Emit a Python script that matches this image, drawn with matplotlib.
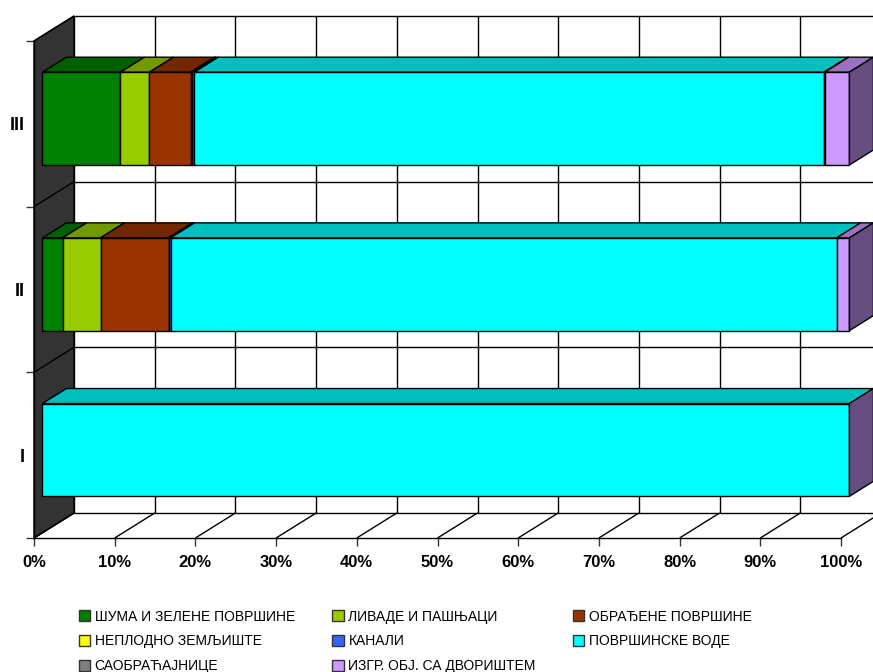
import matplotlib
matplotlib.use("Agg")
import matplotlib.pyplot as plt
from matplotlib.patches import Patch
import numpy as np

plt.rcParams['font.family'] = ['Liberation Sans', 'DejaVu Sans']

# Share of each land use per zone, percent
categories = ["I", "II", "III"]
series_names = ["ШУМА И ЗЕЛЕНЕ ПОВРШИНЕ", "ЛИВАДЕ И ПАШЊАЦИ", "ОБРАЂЕНЕ ПОВРШИНЕ",
                "НЕПЛОДНО ЗЕМЉИШТЕ", "КАНАЛИ", "ПОВРШИНСКЕ ВОДЕ",
                "САОБРАЋАЈНИЦЕ", "ИЗГР. ОБЈ. СА ДВОРИШТЕМ"]
series_colors = ["#008000", "#99CC00", "#993300", "#FFFF00",
                 "#3366FF", "#00FFFF", "#808080", "#CC99FF"]
forest = [0, 2.5, 9.67]
meadow = [0, 4.7, 3.6]
farmland = [0, 8.43, 5.1]
barren = [0, 0.0, 0.15]
canals = [0, 0.25, 0.3]
water = [100, 82.55, 78.05]
roads = [0, 0.0, 0.08]
built = [0, 1.57, 3.05]
series_values = [forest, meadow, farmland, barren, canals, water, roads, built]
x_ticks = [0, 10, 20, 30, 40, 50, 60, 70, 80, 90, 100]

# oblique depth of the 3D box, in data units
DEPTH_X = 4.96
DEPTH_Y = 0.151
BAR_FRONT = 0.21
BAR_BACK = 0.81
BAR_HEIGHT = 0.56
LW = 1.0


def shade(color, factor):
    rgb = np.array(matplotlib.colors.to_rgb(color)) * factor
    return tuple(rgb)


def project(x, y, d):
    return x + d * DEPTH_X, y + d * DEPTH_Y


def face(ax, corners, color, zorder):
    pts = [project(*c) for c in corners]
    ax.fill([p[0] for p in pts], [p[1] for p in pts], facecolor=color,
            edgecolor="black", linewidth=LW, zorder=zorder, clip_on=False)


def line(ax, a, b, color="black", zorder=2):
    pa, pb = project(*a), project(*b)
    ax.plot([pa[0], pb[0]], [pa[1], pb[1]], color=color, linewidth=LW,
            zorder=zorder, clip_on=False, solid_capstyle="butt")


fig = plt.figure(figsize=(8.73, 6.72), dpi=100)
ax = fig.add_axes([34 / 873, 134 / 672, 807 / 873, 497 / 672])
ax.set_xlim(0, 100)
ax.set_ylim(0, 3)
ax.patch.set_visible(False)

# side wall
face(ax, [(0, 0, 0), (0, 0, 1), (0, 3, 1), (0, 3, 0)], "#333333", 1)

# back wall and floor grid
for tick in x_ticks:
    if tick < 100:
        line(ax, (tick, 0, 1), (tick, 3, 1))
    line(ax, (tick, 0, 0), (tick, 0, 1))
for level in range(4):
    line(ax, (0, level, 1), (100, level, 1))
    line(ax, (0, level, 0), (0, level, 1))

# bars, left to right inside each zone
for row in range(len(categories)):
    low = row + 0.5 - BAR_HEIGHT / 2
    high = row + 0.5 + BAR_HEIGHT / 2
    start = 0
    for values, color in zip(series_values, series_colors):
        width = values[row]
        if width <= 0:
            continue
        end = start + width
        face(ax, [(start, high, BAR_FRONT), (end, high, BAR_FRONT),
                  (end, high, BAR_BACK), (start, high, BAR_BACK)], shade(color, 0.75), 3)
        face(ax, [(start, low, BAR_FRONT), (end, low, BAR_FRONT),
                  (end, high, BAR_FRONT), (start, high, BAR_FRONT)], color, 4)
        start = end
    side = shade(series_colors[-1], 0.5)
    face(ax, [(start, low, BAR_FRONT), (start, low, BAR_BACK),
              (start, high, BAR_BACK), (start, high, BAR_FRONT)], side, 4)

for name in ["top", "right"]:
    ax.spines[name].set_visible(False)
for name in ["left", "bottom"]:
    ax.spines[name].set_linewidth(LW)

ax.set_xticks(x_ticks)
ax.set_xticklabels([f"{t}%" for t in x_ticks], fontsize=12, fontweight="bold")
ax.set_yticks(range(4))
ax.set_yticklabels([])
ax.set_yticks([0.5, 1.5, 2.5], minor=True)
ax.set_yticklabels(categories, minor=True, fontsize=13, fontweight="bold")
ax.tick_params(axis="both", which="major", length=5.8, width=LW, color="#333333")
ax.tick_params(axis="x", pad=6.5)
ax.tick_params(axis="y", which="minor", length=0, pad=7)

# legend reads row by row, matplotlib fills by column
order = [0, 3, 6, 1, 4, 7, 2, 5]
handles = [Patch(facecolor=series_colors[i], edgecolor="#333333", linewidth=LW,
                 label=series_names[i]) for i in order]
fig.legend(handles=handles, ncol=3, loc="lower left", bbox_to_anchor=(69 / 873, -11 / 672),
           frameon=False, fontsize=10, handlelength=0.8, handleheight=0.8,
           handletextpad=0.35, labelspacing=0.78, columnspacing=2.7, borderpad=0.2)

plt.savefig("out.png", dpi=100, facecolor="white")
